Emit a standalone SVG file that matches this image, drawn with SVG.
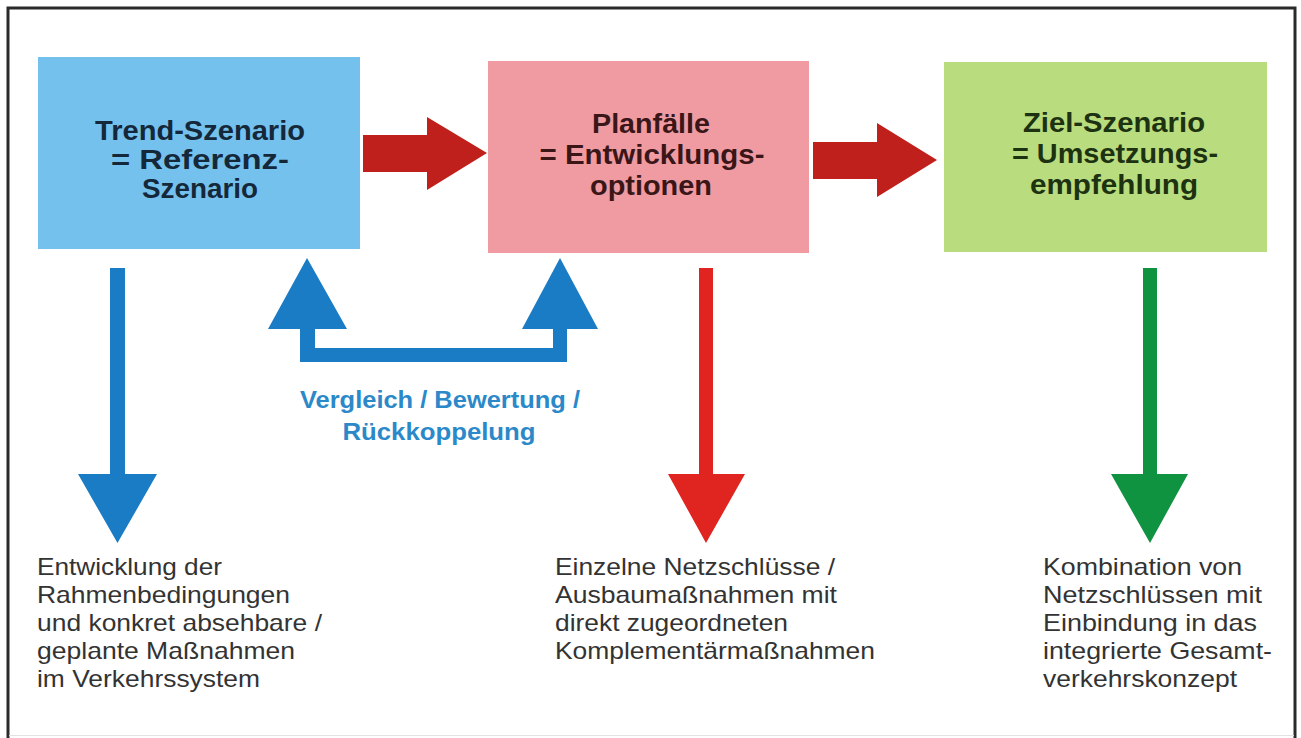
<svg xmlns="http://www.w3.org/2000/svg" width="1301" height="738" viewBox="0 0 1301 738">
<style>
.title{font-family:"Liberation Sans",Arial,sans-serif;font-weight:bold;font-size:27px;text-anchor:middle}
.body{font-family:"Liberation Sans",Arial,sans-serif;font-size:24px;fill:#333}
.lbl{font-family:"Liberation Sans",Arial,sans-serif;font-weight:bold;font-size:23px;fill:#2b89c9;text-anchor:middle}
</style>
<rect x="0" y="0" width="1301" height="738" fill="#fff"/>
<rect x="8" y="8" width="1287" height="740" fill="none" stroke="#2a2a2a" stroke-width="3"/>
<line x1="9" y1="735.5" x2="1294" y2="735.5" stroke="#e2e2e2" stroke-width="1"/>

<g id="node-trend">
<rect x="38" y="57" width="322" height="192" fill="#74c1ed"/>
<text class="title" fill="#15283a"><tspan x="200" y="140" textLength="210" lengthAdjust="spacingAndGlyphs">Trend-Szenario</tspan><tspan x="200" y="169" textLength="178" lengthAdjust="spacingAndGlyphs">= Referenz-</tspan><tspan x="200" y="198" textLength="116" lengthAdjust="spacingAndGlyphs">Szenario</tspan></text>
</g>

<g id="node-planfaelle">
<rect x="488" y="61" width="321" height="192" fill="#ef9ba1"/>
<text class="title" fill="#3a1618"><tspan x="651" y="133" textLength="118" lengthAdjust="spacingAndGlyphs">Planfälle</tspan><tspan x="652" y="164" textLength="225" lengthAdjust="spacingAndGlyphs">= Entwicklungs-</tspan><tspan x="651" y="195" textLength="122" lengthAdjust="spacingAndGlyphs">optionen</tspan></text>
</g>

<g id="node-ziel">
<rect x="944" y="62" width="323" height="190" fill="#b9dc7e"/>
<text class="title" fill="#1c3210"><tspan x="1114" y="132" textLength="182" lengthAdjust="spacingAndGlyphs">Ziel-Szenario</tspan><tspan x="1115" y="163" textLength="206" lengthAdjust="spacingAndGlyphs">= Umsetzungs-</tspan><tspan x="1114" y="194" textLength="168" lengthAdjust="spacingAndGlyphs">empfehlung</tspan></text>
</g>

<g id="connectors">
<path d="M363,135 L427,135 L427,117 L487,153 L427,190 L427,172 L363,172 Z" fill="#c0201b"/>
<path d="M813,142 L877,142 L877,123 L937,160 L877,197 L877,179 L813,179 Z" fill="#c0201b"/>
<path d="M300,329 L268,329 L307,258 L347,329 L315,329 L315,348 L553,348 L553,329 L522,329 L560,258 L598,329 L567,329 L567,362 L300,362 Z" fill="#1a7cc4"/>
<path d="M110,268 L125,268 L125,474 L157,474 L117.5,543 L78,474 L110,474 Z" fill="#1a7cc4"/>
<path d="M699,268 L713,268 L713,474 L745,474 L706,543 L668,474 L699,474 Z" fill="#e02420"/>
<path d="M1143,268 L1157,268 L1157,474 L1188,474 L1150,543 L1111,474 L1143,474 Z" fill="#109340"/>
</g>

<g id="label-feedback">
<text class="lbl"><tspan x="440" y="408" textLength="280" lengthAdjust="spacingAndGlyphs">Vergleich / Bewertung /</tspan><tspan x="439" y="440" textLength="193" lengthAdjust="spacingAndGlyphs">Rückkoppelung</tspan></text>
</g>

<g id="text-trend">
<text class="body"><tspan x="37" y="575" textLength="185" lengthAdjust="spacingAndGlyphs">Entwicklung der</tspan><tspan x="37" y="603" textLength="253" lengthAdjust="spacingAndGlyphs">Rahmenbedingungen</tspan><tspan x="37" y="631" textLength="285" lengthAdjust="spacingAndGlyphs">und konkret absehbare /</tspan><tspan x="37" y="659" textLength="258" lengthAdjust="spacingAndGlyphs">geplante Maßnahmen</tspan><tspan x="37" y="687" textLength="223" lengthAdjust="spacingAndGlyphs">im Verkehrssystem</tspan></text>
</g>

<g id="text-planfaelle">
<text class="body"><tspan x="555" y="575" textLength="280" lengthAdjust="spacingAndGlyphs">Einzelne Netzschlüsse /</tspan><tspan x="555" y="603" textLength="282" lengthAdjust="spacingAndGlyphs">Ausbaumaßnahmen mit</tspan><tspan x="555" y="631" textLength="233" lengthAdjust="spacingAndGlyphs">direkt zugeordneten</tspan><tspan x="555" y="659" textLength="320" lengthAdjust="spacingAndGlyphs">Komplementärmaßnahmen</tspan></text>
</g>

<g id="text-ziel">
<text class="body"><tspan x="1043" y="575" textLength="199" lengthAdjust="spacingAndGlyphs">Kombination von</tspan><tspan x="1043" y="603" textLength="219" lengthAdjust="spacingAndGlyphs">Netzschlüssen mit</tspan><tspan x="1043" y="631" textLength="214" lengthAdjust="spacingAndGlyphs">Einbindung in das</tspan><tspan x="1043" y="659" textLength="229" lengthAdjust="spacingAndGlyphs">integrierte Gesamt-</tspan><tspan x="1043" y="687" textLength="194" lengthAdjust="spacingAndGlyphs">verkehrskonzept</tspan></text>
</g>
</svg>
